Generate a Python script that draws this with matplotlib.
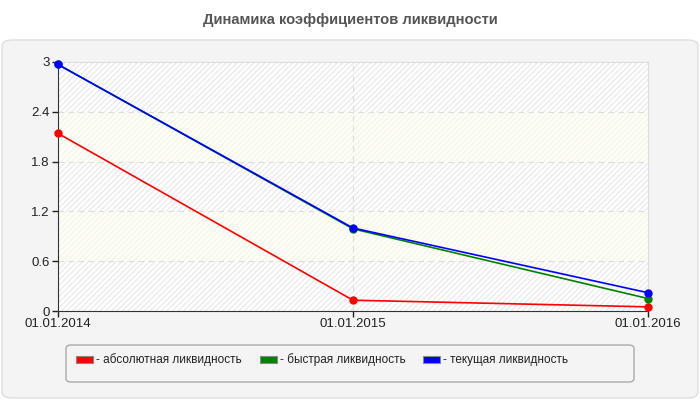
import matplotlib
matplotlib.use("Agg")
import matplotlib.pyplot as plt
from matplotlib.patches import FancyBboxPatch, Patch

plt.rcParams['font.family'] = ['Liberation Sans', 'DejaVu Sans']

dates = ["01.01.2014", "01.01.2015", "01.01.2016"]
absolute = [2.14, 0.13, 0.05]
quick = [2.97, 0.99, 0.15]
current = [2.97, 1.00, 0.22]
yticks = [0, 0.6, 1.2, 1.8, 2.4, 3]
ytick_labels = ["0", "0.6", "1.2", "1.8", "2.4", "3"]
names = ["- абсолютная ликвидность", "- быстрая ликвидность", "- текущая ликвидность"]
colors = ["#ff0000", "#008000", "#0000ff"]

fig = plt.figure(figsize=(7, 4), dpi=100)
fig.patch.set_facecolor("white")

panel = FancyBboxPatch((2/700, 2/400), 696/700, 358/400,
                       boxstyle="round,pad=0,rounding_size=0.015",
                       transform=fig.transFigure, facecolor="#f4f4f4",
                       edgecolor="#dedede", linewidth=1, zorder=-5)
fig.patches.append(panel)

legbox = FancyBboxPatch((66/700, 1 - 382/400), 568/700, 37/400,
                        boxstyle="round,pad=0,rounding_size=0.008",
                        transform=fig.transFigure, facecolor="#f4f4f4",
                        edgecolor="#aaaaaa", linewidth=1, zorder=-4)
fig.patches.append(legbox)

fig.text(0.5, 1 - 20/400, "Динамика коэффициентов ликвидности", ha="center", va="center",
         fontsize=10.6, fontweight="bold", color="#555555")

ax = fig.add_axes([58/700, 1 - 311/400, 590/700, 249/400])
ax.set_zorder(1)
ax.set_facecolor("white")
for i in range(len(yticks) - 1):
    if i % 2 == 0:
        ax.axhspan(yticks[i], yticks[i + 1], facecolor="white", edgecolor="#ececec",
                   hatch="//////", linewidth=0, zorder=0)
    else:
        ax.axhspan(yticks[i], yticks[i + 1], facecolor="#fefefa", edgecolor="#f6f6e6",
                   hatch="//////", linewidth=0, zorder=0)

x = list(range(len(dates)))
for vals, c in zip([absolute, quick, current], colors):
    ax.plot(x, vals, color=c, linewidth=1.2, marker="o", markersize=5, zorder=3, clip_on=False)

ax.set_xlim(0, 2)
ax.set_ylim(0, 3)
ax.set_xticks(x)
ax.set_xticklabels(dates)
ax.set_yticks(yticks)
ax.set_yticklabels(ytick_labels)
ax.tick_params(axis="both", labelsize=9.5, colors="#222222", length=4, width=1, direction="out")
ax.tick_params(axis="y", pad=2)
ax.tick_params(axis="x", pad=1)

for yv in yticks[1:-1]:
    ax.axhline(yv, color="#dddddd", linestyle=(0, (5, 4)), linewidth=0.8, zorder=1)
ax.axvline(1, color="#dddddd", linestyle=(0, (5, 4)), linewidth=0.8, zorder=1)

ax.spines["left"].set_color("#333333")
ax.spines["bottom"].set_color("#333333")
ax.spines["top"].set_color("#dddddd")
ax.spines["right"].set_color("#dddddd")

handles = [Patch(facecolor=c, edgecolor="#888888", linewidth=0.8) for c in colors]
leg = fig.legend(handles, names, loc="center left", ncol=3,
                 bbox_to_anchor=(76/700, 1 - 360/400),
                 fontsize=8.5, frameon=False,
                 handlelength=1.45, handleheight=0.6, handletextpad=0.25,
                 columnspacing=1.5, borderaxespad=0, borderpad=0)
for t in leg.get_texts():
    t.set_color("#222222")

fig.savefig("out.png", dpi=100, facecolor=fig.get_facecolor())
